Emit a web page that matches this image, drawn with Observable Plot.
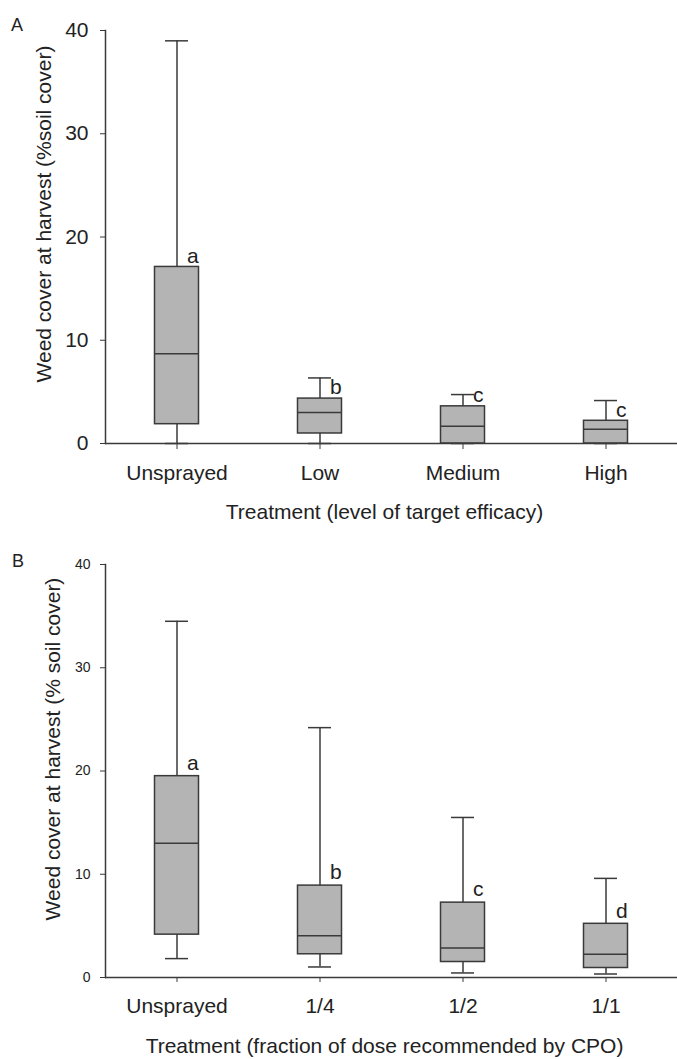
<!DOCTYPE html>
<html>
<head>
<meta charset="utf-8">
<script src="https://cdn.jsdelivr.net/npm/d3@7"></script>
<script src="https://cdn.jsdelivr.net/npm/@observablehq/plot@0.6"></script>
<style>
  html, body { margin: 0; padding: 0; background: #fff; }
  #wrap { position: relative; width: 677px; height: 1059px; font-family: "Liberation Sans", Arial, sans-serif; overflow: hidden; }
  .panel-letter { position: absolute; font-size: 18px; line-height: 1; color: #222; }
  svg { display: block; }
</style>
</head>
<body>
<div id="wrap">
  <div id="panelA"></div>
  <div id="panelB"></div>
  <div class="panel-letter" style="left:11px; top:16px;">A</div>
  <div class="panel-letter" style="left:12px; top:552px;">B</div>
</div>
<script>
// ---- Panel A data ----
const categoriesA = ["Unsprayed", "Low", "Medium", "High"];
const whiskerLowA = [0, 0, 0, 0];
const q1A = [1.87, 0.97, 0, 0];
const medianA = [8.7, 3.0, 1.67, 1.38];
const q3A = [17.1, 4.35, 3.6, 2.2];
const whiskerHighA = [39, 6.35, 4.74, 4.16];
const lettersA = ["a", "b", "c", "c"];

// ---- Panel B data ----
const categoriesB = ["Unsprayed", "1/4", "1/2", "1/1"];
const whiskerLowB = [1.83, 1.02, 0.44, 0.34];
const q1B = [4.15, 2.25, 1.5, 0.92];
const medianB = [13.0, 4.05, 2.86, 2.25];
const q3B = [19.5, 8.9, 7.25, 5.2];
const whiskerHighB = [34.5, 24.2, 15.5, 9.6];
const lettersB = ["a", "b", "c", "d"];

const yTicks = [0, 10, 20, 30, 40];

const STROKE = "#3a3a3a";
const FILL = "#b4b4b4";
const FONT = "'Liberation Sans', Arial, Helvetica, sans-serif";

function rows(cats, lo, q1, med, q3, hi, letters) {
  return cats.map((c, i) => ({cat: c, lo: lo[i], q1: q1[i], med: med[i], q3: q3[i], hi: hi[i], letter: letters[i]}));
}

function panel({data, cats, height, marginTop, marginBottom, yLabel, xLabel, yTickFont, yTickPadding,
                yLabelDx, yLabelDy, xLabelDy, xTickSize, letterDy}) {
  return Plot.plot({
    width: 677,
    height,
    marginTop,
    marginBottom,
    marginLeft: 105,
    marginRight: 0,
    style: {fontFamily: FONT, color: "#222", background: "#fff", overflow: "visible"},
    x: {domain: cats, padding: 0, label: null},
    y: {domain: [0, 40], label: null},
    marks: [
      Plot.ruleX(data, {x: "cat", y1: "lo", y2: "hi", stroke: STROKE, strokeWidth: 1.5}),
      Plot.tickY(data, {x: "cat", y: "hi", stroke: STROKE, strokeWidth: 1.5, inset: 60}),
      Plot.tickY(data, {x: "cat", y: "lo", stroke: STROKE, strokeWidth: 1.5, inset: 60}),
      Plot.barY(data, {x: "cat", y1: "q1", y2: "q3", fill: FILL, stroke: STROKE, strokeWidth: 1.5, insetLeft: 49.5, insetRight: 49.5}),
      Plot.tickY(data, {x: "cat", y: "med", stroke: STROKE, strokeWidth: 1.5, inset: 49.5}),
      Plot.text(data, {x: "cat", y: "q3", text: "letter", textAnchor: "start", dx: 10, dy: letterDy, fontSize: 21, fill: "#222"}),
      Plot.axisY({ticks: yTicks, tickSize: 5, tickPadding: yTickPadding, fontSize: yTickFont, stroke: STROKE, label: null}),
      Plot.axisX({tickSize: xTickSize, tickPadding: 16, fontSize: 21, stroke: STROKE, label: null}),
      Plot.text([yLabel], {frameAnchor: "left", textAnchor: "middle", lineAnchor: "middle", rotate: -90, dx: yLabelDx, dy: yLabelDy, fontSize: 21, fill: "#222"}),
      Plot.text([xLabel], {frameAnchor: "bottom", textAnchor: "middle", lineAnchor: "bottom", dx: -7, dy: xLabelDy, fontSize: 21, fill: "#222"}),
      Plot.frame({anchor: "left", stroke: STROKE, strokeWidth: 1.5}),
      Plot.ruleY([0], {stroke: STROKE, strokeWidth: 1.5})
    ]
  });
}

document.getElementById("panelA").append(panel({
  data: rows(categoriesA, whiskerLowA, q1A, medianA, q3A, whiskerHighA, lettersA),
  cats: categoriesA,
  height: 540, marginTop: 30, marginBottom: 97,
  yLabel: "Weed cover at harvest (%soil cover)",
  xLabel: "Treatment (level of target efficacy)",
  yTickFont: 21, yTickPadding: 12, yLabelDx: -61, yLabelDy: -23, xLabelDy: 75, xTickSize: 6, letterDy: -11
}));

document.getElementById("panelB").append(panel({
  data: rows(categoriesB, whiskerLowB, q1B, medianB, q3B, whiskerHighB, lettersB),
  cats: categoriesB,
  height: 519, marginTop: 24, marginBottom: 82,
  yLabel: "Weed cover at harvest (% soil cover)",
  xLabel: "Treatment (fraction of dose recommended by CPO)",
  yTickFont: 14, yTickPadding: 10, yLabelDx: -52, yLabelDy: -22, xLabelDy: 75, xTickSize: 5, letterDy: -13
}));
</script>
</body>
</html>
